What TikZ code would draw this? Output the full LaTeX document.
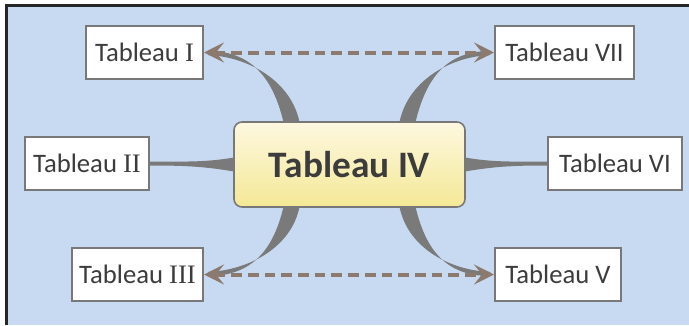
\documentclass[tikz,border=0pt]{standalone}
\usepackage{fontspec}
\setmainfont{Carlito}
\newfontfamily\numfont{Liberation Serif}
\usetikzlibrary{arrows.meta,calc}
\definecolor{paper}{RGB}{200,218,242}
\definecolor{limbgray}{RGB}{122,122,122}
\definecolor{linkbrown}{RGB}{140,122,110}
\definecolor{boxline}{RGB}{120,120,120}
\definecolor{inktext}{RGB}{60,60,60}
\definecolor{hubtop}{RGB}{253,248,224}
\definecolor{hubbottom}{RGB}{244,232,150}
\tikzset{
  leaf/.style={draw=boxline, line width=1.5pt, fill=white, text=inktext,
    minimum height=39.75pt, inner sep=0pt, font=\fontsize{20}{24}\selectfont},
  hub/.style={draw=boxline, line width=1.2pt, rounded corners=6pt,
    top color=hubtop, bottom color=hubbottom, text=inktext,
    minimum width=173.25pt, minimum height=63.75pt,
    font=\fontsize{28}{33}\selectfont\bfseries},
  limb/.style={fill=limbgray},
  link/.style={draw=linkbrown, line width=3pt, dash pattern=on 8pt off 4.5pt,
    {Stealth[length=15pt,width=15pt,inset=6pt]}-{Stealth[length=15pt,width=15pt,inset=6pt]}}
}

\begin{document}
\begin{tikzpicture}[x=0.75pt,y=-0.75pt]
  \useasboundingbox (0,0) rectangle (689,325);
  \fill[paper] (5,4) rectangle (689,325);
  \draw[black!85, line width=2.25pt] (6.5,325) -- (6.5,5.5) -- (689,5.5);

  \node[hub] (t4) at (349.5,164.5) {Tableau IV};
  \node[leaf, minimum width=87.75pt] (t1) at (144.5,52.5) {Tableau {\numfont I}};
  \node[leaf, minimum width=93pt] (t2) at (87,163.5) {Tableau {\numfont II}};
  \node[leaf, minimum width=98.25pt] (t3) at (137.5,274.5) {Tableau {\numfont III}};
  \node[leaf, minimum width=94.5pt] (t5) at (558,274.5) {Tableau V};
  \node[leaf, minimum width=100.5pt] (t6) at (615,163.5) {Tableau VI};
  \node[leaf, minimum width=104.25pt] (t7) at (564.5,52.5) {Tableau VII};

  \fill[limb] ($(t4.north)+(-66,1)$) .. controls +(-10,-42) and +(45,0) .. ($(t1.east)+(4,-1.5)$)
    -- ($(t1.east)+(4,2.5)$) .. controls +(42,2) and +(-8,-40) .. ($(t4.north)+(-50,1)$) -- cycle;
  \fill[limb] ($(t4.north)+(66,1)$) .. controls +(10,-42) and +(-45,0) .. ($(t7.west)+(-4,-1.5)$)
    -- ($(t7.west)+(-4,2.5)$) .. controls +(-42,2) and +(8,-40) .. ($(t4.north)+(50,1)$) -- cycle;
  \fill[limb] ($(t4.south)+(-66,-1)$) .. controls +(-10,42) and +(45,0) .. ($(t3.east)+(4,1.5)$)
    -- ($(t3.east)+(4,-2.5)$) .. controls +(42,-2) and +(-8,40) .. ($(t4.south)+(-50,-1)$) -- cycle;
  \fill[limb] ($(t4.south)+(66,-1)$) .. controls +(10,42) and +(-45,0) .. ($(t5.west)+(-4,1.5)$)
    -- ($(t5.west)+(-4,-2.5)$) .. controls +(-42,-2) and +(8,40) .. ($(t4.south)+(50,-1)$) -- cycle;
  \fill[limb] ($(t4.west)+(1,-7)$) .. controls +(-30,5) and +(35,0) .. ($(t2.east)+(0,-2)$)
    -- ($(t2.east)+(0,2)$) .. controls +(35,0) and +(-30,-5) .. ($(t4.west)+(1,7)$) -- cycle;
  \fill[limb] ($(t4.east)+(-1,-7)$) .. controls +(30,5) and +(-35,0) .. ($(t6.west)+(0,-2)$)
    -- ($(t6.west)+(0,2)$) .. controls +(-35,0) and +(30,-5) .. ($(t4.east)+(-1,7)$) -- cycle;

  \draw[link] (t1.east) -- (t7.west);
  \draw[link] (t3.east) -- (t5.west);
\end{tikzpicture}
\end{document}
